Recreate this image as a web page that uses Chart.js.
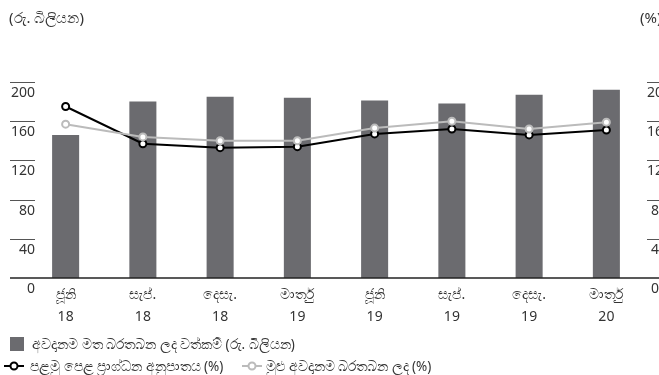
<!DOCTYPE html>
<html>
<head>
<meta charset="utf-8">
<script src="https://cdn.jsdelivr.net/npm/chart.js@4"></script>
<style>
  html, body { margin: 0; padding: 0; background: #fff; overflow: hidden; }
  body { width: 659px; height: 375px; position: relative; font-family: "Noto Sans", "DejaVu Sans", sans-serif; color: #333; }
  #wrap { position: absolute; left: 0; top: 0; width: 659px; height: 375px; }
  .t { position: absolute; font-size: 13.5px; color: #333; white-space: nowrap; line-height: 16px; }
  .sq { position: absolute; width: 14px; height: 14px; background: #6b6b6f; }
  .sym { position: absolute; }
</style>
</head>
<body>
<div id="wrap"><canvas id="c" width="659" height="375"></canvas></div>
<div class="t" style="left:9px; top:8px; font-size:15px; line-height:18px;">(රු. බිලියන)</div>
<div class="t" style="left:640px; top:8px; font-size:15px; line-height:18px;">(%)</div>
<div class="sq" style="left:10px; top:337px;"></div>
<div class="t" style="left:32px; top:336px;">අවදානම මත බරතබන ලද වත්කම් (රු. බිලියන)</div>
<svg class="sym" style="left:2px; top:359px;" width="24" height="14">
  <line x1="2" y1="7" x2="22" y2="7" stroke="#000" stroke-width="2"/>
  <circle cx="12" cy="7" r="3.5" fill="#fff" stroke="#000" stroke-width="2"/>
</svg>
<div class="t" style="left:30px; top:358px;">පළමු පෙළ ප්‍රාග්ධන අනුපාතය (%)</div>
<svg class="sym" style="left:240px; top:359px;" width="24" height="14">
  <line x1="2" y1="7" x2="22" y2="7" stroke="#bbb" stroke-width="2"/>
  <circle cx="12" cy="7" r="3.5" fill="#fff" stroke="#bbb" stroke-width="2"/>
</svg>
<div class="t" style="left:266px; top:358px;">මුළු අවදානම බරතබන ලද (%)</div>
<script>
const months = ["ජූනි", "සැප්.", "දෙසැ.", "මාර්තු", "ජූනි", "සැප්.", "දෙසැ.", "මාර්තු"];
const years = ["18", "18", "18", "19", "19", "19", "19", "20"];
const rwaValues = [146, 180, 185, 184, 181, 178, 187, 192];
const tier1Ratio = [17.5, 13.7, 13.3, 13.4, 14.7, 15.2, 14.6, 15.1];
const totalRatio = [15.7, 14.4, 14.0, 14.0, 15.3, 16.0, 15.2, 15.9];
const leftTicks = [0, 40, 80, 120, 160, 200];
const rightTicks = [0, 4, 8, 12, 16, 20];

const labels = months.map((m, i) => [m, years[i]]);

const axisLines = {
  id: 'axisLines',
  beforeDraw(chart) {
    // let the left tick labels extend past the axis box (they sit under the short rules)
    chart.scales.y._computeLabelArea = () => undefined;
  },
  afterDraw(chart) {
    const ctx = chart.ctx;
    const y = chart.scales.y;
    ctx.save();
    ctx.strokeStyle = '#555';
    ctx.lineWidth = 1;
    leftTicks.forEach(v => {
      if (v === 0) return;
      const py = Math.round(y.getPixelForValue(v)) + 0.5;
      ctx.beginPath(); ctx.moveTo(10, py); ctx.lineTo(35, py); ctx.stroke();
      ctx.beginPath(); ctx.moveTo(647, py); ctx.lineTo(659, py); ctx.stroke();
    });
    const by = Math.round(y.getPixelForValue(0));
    ctx.strokeStyle = '#222';
    ctx.lineWidth = 1.5;
    ctx.beginPath(); ctx.moveTo(10, by); ctx.lineTo(659, by); ctx.stroke();
    ctx.restore();
  }
};

const tickFont = { family: '"Noto Sans", "DejaVu Sans", sans-serif', size: 14 };

new Chart(document.getElementById('c'), {
  data: {
    labels: labels,
    datasets: [
      {
        type: 'line', label: 'මුළු අවදානම බරතබන ලද (%)', data: totalRatio, yAxisID: 'y1',
        borderColor: '#bbbbbb', borderWidth: 2, pointRadius: 3.5, pointBorderWidth: 2,
        pointBackgroundColor: '#fff', pointBorderColor: '#bbbbbb', tension: 0, order: 0
      },
      {
        type: 'line', label: 'පළමු පෙළ ප්‍රාග්ධන අනුපාතය (%)', data: tier1Ratio, yAxisID: 'y1',
        borderColor: '#000', borderWidth: 2, pointRadius: 3.5, pointBorderWidth: 2,
        pointBackgroundColor: '#fff', pointBorderColor: '#000', tension: 0, order: 1
      },
      {
        type: 'bar', label: 'අවදානම මත බරතබන ලද වත්කම් (රු. බිලියන)', data: rwaValues, yAxisID: 'y',
        backgroundColor: '#6b6b6f', categoryPercentage: 1, barPercentage: 0.35, order: 2
      }
    ]
  },
  options: {
    responsive: false,
    animation: false,
    layout: { padding: { top: 82, left: 0, right: 0, bottom: 0 } },
    plugins: { legend: { display: false }, tooltip: { enabled: false } },
    scales: {
      x: {
        grid: { display: false, drawTicks: false },
        border: { display: false },
        ticks: { color: '#333', font: { ...tickFont, lineHeight: '22px' }, padding: 6, maxRotation: 0, autoSkip: false },
        afterFit(s) { s.height = 97; }
      },
      y: {
        position: 'left', min: 0, max: 200,
        afterBuildTicks(s) { s.ticks = leftTicks.map(v => ({ value: v })); },
        grid: { display: false, drawTicks: false },
        border: { display: false },
        ticks: { color: '#333', font: tickFont, padding: -8, labelOffset: 11 },
        afterFit(s) { s.width = 27; }
      },
      y1: {
        position: 'right', min: 0, max: 20,
        afterBuildTicks(s) { s.ticks = rightTicks.map(v => ({ value: v })); },
        grid: { display: false, drawTicks: false },
        border: { display: false },
        ticks: { color: '#333', font: tickFont, padding: 2, labelOffset: 11, crossAlign: 'center' },
        afterFit(s) { s.width = 14; }
      }
    }
  },
  plugins: [axisLines]
});
</script>
</body>
</html>
